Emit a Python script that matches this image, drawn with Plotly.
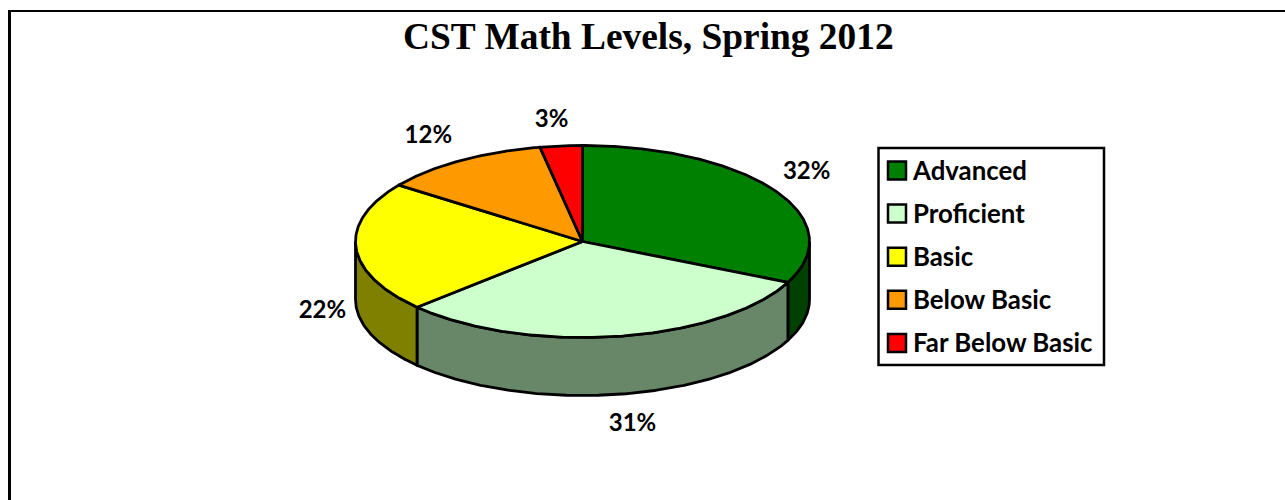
import numpy as np
import plotly.graph_objects as go

# ---- data ----
categories = ["Advanced", "Proficient", "Basic", "Below Basic", "Far Below Basic"]
percents = [32, 31, 22, 12, 3]
title_text = "CST Math Levels, Spring 2012"

# ---- styles ----
top_colors = ["#008000", "#CCFFCC", "#FFFF00", "#FF9900", "#FF0000"]
side_colors = ["#004000", "#688668", "#808000", "#804D00", "#800000"]
label_offsets = [(32.5, -17.5), (14.5, 88.5), (-33.5, 64), (-32.5, -23.5), (-9.6, -25)]
CX, CY, RX, RY, DEPTH = 582.5, 241.5, 227, 96, 58
LW = 2.8


def edge(theta_deg, drop=0.0):
    t = np.radians(theta_deg)
    return CX + RX * np.sin(t), CY - RY * np.cos(t) + drop


def arc(a, b):
    return np.linspace(a, b, max(int(abs(b - a) * 2), 2))


def poly(x, y, color):
    return go.Scatter(x=list(x), y=list(y), mode="lines", fill="toself", fillcolor=color,
                      line=dict(color="black", width=LW), hoverinfo="skip", showlegend=False)


fig = go.Figure()
edges = np.concatenate([[0], np.cumsum(percents)]) * 3.6

# side walls (only the front half of the disc is visible)
for i in range(len(percents)):
    a, b = max(edges[i], 90), min(edges[i + 1], 270)
    if b > a:
        th = arc(a, b)
        xt, yt = edge(th)
        xb, yb = edge(th[::-1], DEPTH)
        fig.add_trace(poly(np.r_[xt, xb, xt[0]], np.r_[yt, yb, yt[0]], side_colors[i]))

# top face
for i in range(len(percents)):
    xt, yt = edge(arc(edges[i], edges[i + 1]))
    fig.add_trace(poly(np.r_[CX, xt, CX], np.r_[CY, yt, CY], top_colors[i]))

# data labels
mids = (edges[:-1] + edges[1:]) / 2
ax, ay = edge(mids)
fig.add_trace(go.Scatter(
    x=ax + np.array([o[0] for o in label_offsets]),
    y=ay + np.array([o[1] for o in label_offsets]),
    mode="text", text=[f"{p}%" for p in percents], textposition="middle center",
    textfont=dict(family="Lato", size=24, color="black", weight="bold"),
    hoverinfo="skip", showlegend=False))

# legend
LEG_X, LEG_Y0, LEG_STEP = 897, 170.5, 43.1
leg_y = [LEG_Y0 + LEG_STEP * i for i in range(len(categories))]
fig.add_trace(go.Scatter(
    x=[LEG_X] * len(categories), y=leg_y, mode="markers",
    marker=dict(symbol="square", size=18, color=top_colors, line=dict(color="black", width=2.5)),
    hoverinfo="skip", showlegend=False))
fig.add_trace(go.Scatter(
    x=[913] * len(categories), y=[v + 3 for v in leg_y], mode="text", text=categories,
    textposition="middle right",
    textfont=dict(family="Lato", size=25.8, color="black", weight="bold"),
    hoverinfo="skip", showlegend=False))

fig.update_layout(
    width=1285, height=500, margin=dict(l=0, r=0, t=0, b=0),
    paper_bgcolor="white", plot_bgcolor="white",
    xaxis=dict(range=[0, 1285], visible=False, fixedrange=True),
    yaxis=dict(range=[500, 0], visible=False, fixedrange=True),
    shapes=[
        dict(type="rect", x0=878.5, x1=1104, y0=148, y1=365,
             line=dict(color="black", width=2.5), fillcolor="rgba(0,0,0,0)", layer="below"),
        dict(type="line", x0=9.5, x1=9.5, y0=10, y1=500, line=dict(color="black", width=3)),
        dict(type="line", x0=8, x1=1285, y0=11, y1=11, line=dict(color="black", width=2)),
    ],
    annotations=[dict(x=648, y=36, xref="x", yref="y", text=f"<b>{title_text}</b>",
                      showarrow=False, xanchor="center", yanchor="middle",
                      font=dict(family="Liberation Serif", size=37.4, color="black"))],
)

fig.write_html("out.html", config=dict(displayModeBar=False),
               post_script="document.body.style.margin='0';document.body.style.overflow='hidden';")
